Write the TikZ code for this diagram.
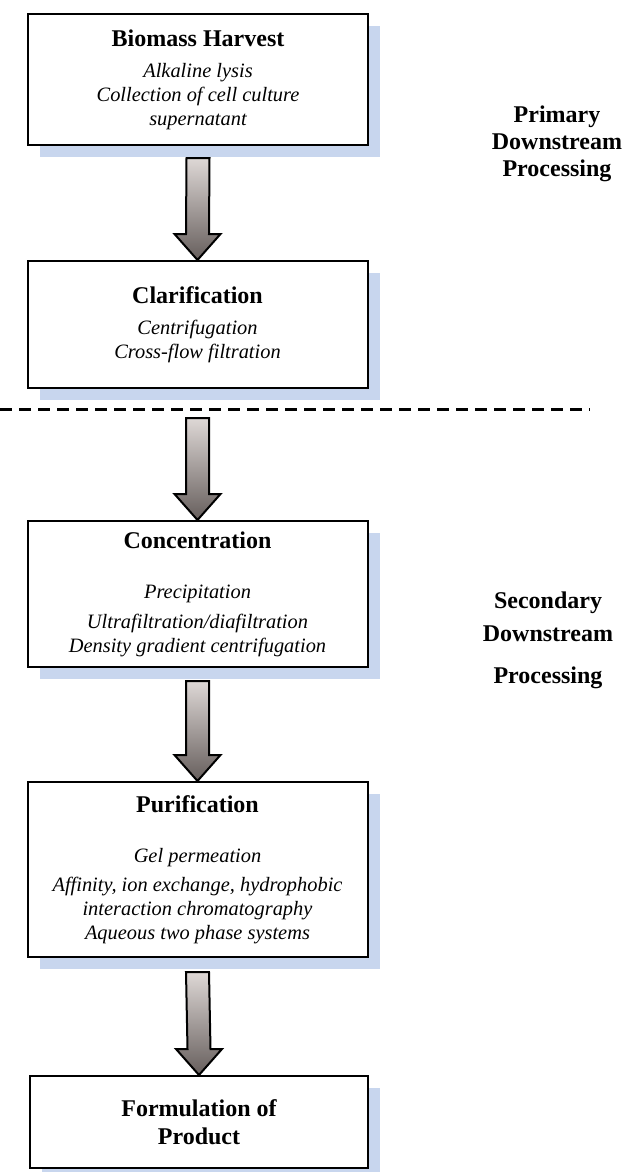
\documentclass[tikz,border=0pt]{standalone}
\usepackage{fontspec}
\setmainfont{Liberation Serif}
\usepackage{tikz}
\usetikzlibrary{calc,shadows}

\definecolor{shadowblue}{RGB}{200,214,238}
\definecolor{arrowtop}{RGB}{222,216,214}
\definecolor{arrowbot}{RGB}{102,94,92}

\newcommand{\stagehead}[1]{{\upshape\bfseries\fontsize{12}{12}\selectfont #1}}
% fat block arrow: #1 = gap below the source box (px), #2 = source, #3 = target
\newcommand{\fatarrow}[3][12]{%
  \draw[blockarrow] ($(#2.south)+(-11.5,#1)$) -- ($(#2.south)+(11.5,#1)$)
    -- ($(#3.north)+(11.5,-26)$) -- ($(#3.north)+(23,-26)$) -- (#3.north)
    -- ($(#3.north)+(-23,-26)$) -- ($(#3.north)+(-11.5,-26)$) -- cycle;}

\begin{document}
\begin{tikzpicture}[x=0.5pt,y=-0.5pt,
    stage/.style={draw, line width=1pt, fill=white, minimum width=170pt,
      align=center, inner sep=0pt,
      font=\fontsize{10.2}{12}\selectfont\itshape,
      drop shadow={shadow xshift=6pt, shadow yshift=-6pt, fill=shadowblue, opacity=1}},
    blockarrow/.style={draw=black, line width=1pt, line join=miter,
      top color=arrowtop, bottom color=arrowbot},
    phase/.style={align=center, font=\fontsize{12}{13.5}\selectfont\bfseries}]
  \useasboundingbox (0,0) rectangle (624,1172);

  \node[stage, minimum height=65.5pt] (harvest) at (198,79.5)
    {\stagehead{Biomass Harvest}\\[3.5pt] Alkaline lysis\\ Collection of cell culture\\ supernatant};
  \node[stage, minimum height=63.5pt] (clarify) at (197.5,324.5)
    {\stagehead{Clarification}\\[3.5pt] Centrifugation\\ Cross-flow filtration};
  \node[stage, minimum height=73pt] (concentr) at (197.5,594)
    {\stagehead{Concentration}\\[13pt] Precipitation\\[3pt] Ultrafiltration/diafiltration\\ Density gradient centrifugation};
  \node[stage, minimum height=87.5pt] (purify) at (197.5,869.5)
    {\stagehead{Purification}\\[13pt] Gel permeation\\[2.5pt] Affinity, ion exchange, hydrophobic\\ interaction chromatography\\ Aqueous two phase systems};
  \node[stage, minimum width=169pt, minimum height=46pt] (formul) at (199,1122)
    {\stagehead{Formulation of}\\[2pt] \stagehead{Product}};

  % phase labels
  \node[phase] (primary) at (557,144) {Primary\\ Downstream\\ Processing};
  \node[phase] (secondary) at (548,640) {Secondary\\[3pt] Downstream\\[7.5pt] Processing};

  % primary / secondary border
  \draw[line width=1.5pt, dash pattern=on 6pt off 3.5pt] (0,409) -- (590,409);

  \fatarrow{harvest}{clarify}
  \fatarrow[29]{clarify}{concentr}
  \fatarrow[13]{concentr}{purify}
  \fatarrow[14]{purify}{formul}
\end{tikzpicture}
\end{document}
